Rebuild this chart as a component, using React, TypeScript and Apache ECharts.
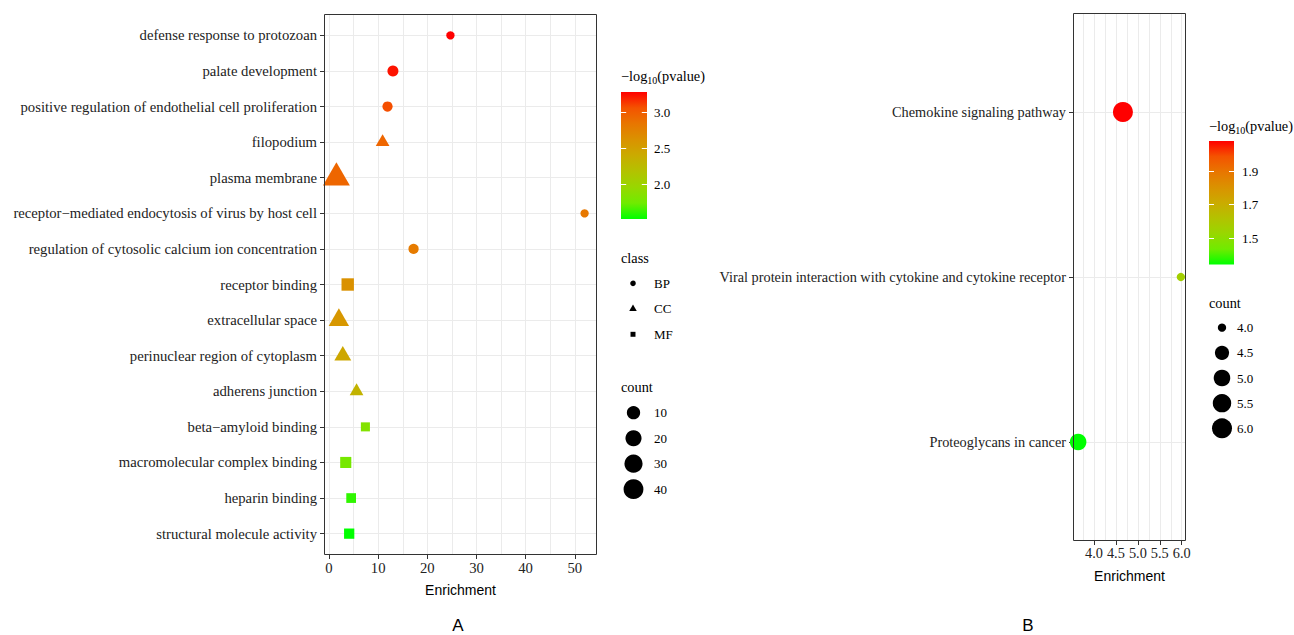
import React, { useEffect, useRef } from "react";
import * as echarts from "echarts";

// ---------------- Panel A data ----------------
const termsA = [
  "defense response to protozoan",
  "palate development",
  "positive regulation of endothelial cell proliferation",
  "filopodium",
  "plasma membrane",
  "receptor\u2212mediated endocytosis of virus by host cell",
  "regulation of cytosolic calcium ion concentration",
  "receptor binding",
  "extracellular space",
  "perinuclear region of cytoplasm",
  "adherens junction",
  "beta\u2212amyloid binding",
  "macromolecular complex binding",
  "heparin binding",
  "structural molecule activity",
];
const classA = ["BP", "BP", "BP", "CC", "CC", "BP", "BP", "MF", "CC", "CC", "CC", "MF", "MF", "MF", "MF"];
const enrichA = [24.7, 13.0, 11.9, 10.9, 1.5, 52.0, 17.2, 3.8, 2.0, 2.8, 5.6, 7.4, 3.4, 4.5, 4.1];
const countA = [3, 5, 4, 4, 41, 3, 4, 12, 16, 8, 4, 4, 8, 5, 6];
const pvalA = [3.28, 3.23, 3.07, 2.94, 2.94, 2.82, 2.8, 2.62, 2.57, 2.43, 2.32, 1.83, 1.76, 1.6, 1.505];

// ---------------- Panel B data ----------------
const termsB = [
  "Chemokine signaling pathway",
  "Viral protein interaction with cytokine and cytokine receptor",
  "Proteoglycans in cancer",
];
const enrichB = [4.66, 5.98, 3.64];
const countB = [6, 4, 5];
const pvalB = [2.08, 1.56, 1.34];

// ---------------- tick / legend labels ----------------
const xTicksA = [0, 10, 20, 30, 40, 50];
const xTicksB = [4.0, 4.5, 5.0, 5.5, 6.0];
const colorTicksA = [2.0, 2.5, 3.0];
const colorTicksB = [1.5, 1.7, 1.9];
const classLevels = ["BP", "CC", "MF"];
const countBreaksA = [10, 20, 30, 40];
const countBreaksB = [4.0, 4.5, 5.0, 5.5, 6.0];

// green -> red gradient (Lab-like interpolation stops)
const gradientStops = ["#00FF00", "#70EB00", "#98D700", "#B3C200", "#CAAB00", "#DA9200", "#E87600", "#F45300", "#FF0000"];

const SERIF = '"Liberation Serif", "DejaVu Serif", serif';
const SANS = '"Liberation Sans", Arial, sans-serif';

// layout
const GA = { left: 324, top: 14, width: 273, height: 541 };
const GB = { left: 1073, top: 13, width: 113, height: 528 };

function sizeScale(counts: number[]) {
  const lo = Math.min(...counts);
  const hi = Math.max(...counts);
  return (c: number) => 8.3 + 11.7 * Math.sqrt(Math.max(0, c - lo) / (hi - lo));
}

function symbolFor(cls: string) {
  return cls === "BP" ? "circle" : cls === "CC" ? "triangle" : "rect";
}

function symbolDims(cls: string, d: number) {
  if (cls === "CC") {
    const w = d * 1.347;
    const h = w * 0.866;
    return { size: [w, h], offset: [0, -h / 6] };
  }
  if (cls === "MF") {
    const s = d * 0.886;
    return { size: [s, s], offset: [0, 0] };
  }
  return { size: [d, d], offset: [0, 0] };
}

function expand(vals: number[]) {
  const lo = Math.min(...vals);
  const hi = Math.max(...vals);
  const pad = (hi - lo) * 0.05;
  return [lo - pad, hi + pad];
}

function measure(text: string, font: string) {
  const ctx = document.createElement("canvas").getContext("2d")!;
  ctx.font = font;
  return ctx.measureText(text).width;
}

function titleElems(x: number, y: number) {
  const f1 = 14.3;
  const f2 = 10;
  const w1 = measure("\u2212log", `${f1}px ${SERIF}`);
  const w2 = measure("10", `${f2}px ${SERIF}`);
  const mk = (tx: number, ty: number, text: string, fs: number) => ({
    type: "text",
    x: tx,
    y: ty,
    z: 20,
    style: { text, fill: "#000", fontFamily: SERIF, fontSize: fs, align: "left", verticalAlign: "middle" },
  });
  return [mk(x, y, "\u2212log", f1), mk(x + w1, y + 4, "10", f2), mk(x + w1 + w2, y, "(pvalue)", f1)];
}

function textEl(x: number, y: number, text: string, fs = 13, family = SERIF, align = "left") {
  return {
    type: "text",
    x,
    y,
    z: 20,
    style: { text, fill: "#000", fontFamily: family, fontSize: fs, align, verticalAlign: "middle" },
  };
}

function colorbar(x: number, y: number, w: number, h: number, lo: number, hi: number, ticks: number[], labelX: number) {
  const els: any[] = [];
  els.push({
    type: "rect",
    z: 20,
    shape: { x, y, width: w, height: h },
    style: {
      fill: new echarts.graphic.LinearGradient(
        0, 1, 0, 0,
        gradientStops.map((c, i) => ({ offset: i / (gradientStops.length - 1), color: c }))
      ),
    },
  });
  ticks.forEach((v) => {
    const ty = Math.round(y + ((hi - v) / (hi - lo)) * h) + 0.5;
    els.push({ type: "line", z: 21, shape: { x1: x, y1: ty, x2: x + w / 5, y2: ty }, style: { stroke: "#fff", lineWidth: 1 } });
    els.push({ type: "line", z: 21, shape: { x1: x + w - w / 5, y1: ty, x2: x + w, y2: ty }, style: { stroke: "#fff", lineWidth: 1 } });
    els.push(textEl(labelX, ty, v.toFixed(1)));
  });
  return els;
}

function shapeEl(cls: string, cx: number, cy: number, d: number) {
  if (cls === "BP") return { type: "circle", z: 20, shape: { cx, cy, r: d / 2 }, style: { fill: "#000" } };
  if (cls === "CC") {
    const w = d * 1.347;
    const h = w * 0.866;
    return {
      type: "polygon",
      z: 20,
      shape: { points: [[cx, cy - (2 * h) / 3], [cx + w / 2, cy + h / 3], [cx - w / 2, cy + h / 3]] },
      style: { fill: "#000" },
    };
  }
  const s = d * 0.886;
  return { type: "rect", z: 20, shape: { x: cx - s / 2, y: cy - s / 2, width: s, height: s }, style: { fill: "#000" } };
}

function border(g: { left: number; top: number; width: number; height: number }) {
  return {
    type: "rect",
    z: 30,
    silent: true,
    shape: { x: g.left + 0.5, y: g.top + 0.5, width: g.width - 1, height: g.height - 1 },
    style: { fill: "none", stroke: "#333", lineWidth: 1 },
  };
}

function yAxis(gridIndex: number, terms: string[], fs: number) {
  return {
    type: "value",
    gridIndex,
    inverse: true,
    position: "left",
    min: -0.6,
    max: terms.length - 1 + 0.6,
    minInterval: 1,
    maxInterval: 1,
    axisLine: { show: false, onZero: false },
    axisTick: { show: true, length: 4, lineStyle: { color: "#333" }, customValues: terms.map((_, i) => i) },
    splitLine: { show: true, lineStyle: { color: "#EBEBEB", width: 1 } },
    axisLabel: {
      margin: 7,
      fontFamily: SERIF,
      fontSize: fs,
      color: "#222",
      customValues: terms.map((_, i) => i),
      formatter: (v: number) => {
        const i = Math.round(v);
        return Math.abs(v - i) < 1e-6 && i >= 0 && i < terms.length ? terms[i] : "";
      },
    },
  };
}

function xAxis(gridIndex: number, ext: number[], major: number, ticks: number[], digits: number, fs: number) {
  return {
    type: "value",
    gridIndex,
    position: "bottom",
    min: ext[0],
    max: ext[1],
    minInterval: major,
    maxInterval: major,
    axisLine: { show: false, onZero: false },
    axisTick: { show: true, length: 4, lineStyle: { color: "#333" }, customValues: ticks },
    splitLine: { show: true, lineStyle: { color: "#EBEBEB", width: 1 } },
    minorTick: { show: false, splitNumber: 2 },
    minorSplitLine: { show: true, lineStyle: { color: "#EBEBEB", width: 1 } },
    axisLabel: {
      margin: 5,
      fontFamily: SERIF,
      fontSize: fs,
      color: "#222",
      customValues: ticks,
      formatter: (v: number) => {
        const ok = ticks.some((t) => Math.abs(t - v) < 1e-6);
        return ok ? v.toFixed(digits) : "";
      },
    },
    name: "Enrichment",
    nameLocation: "middle",
    nameGap: 28,
    nameTextStyle: { fontFamily: SANS, fontSize: 14, color: "#000" },
  };
}

function buildOption() {
  const sizeA = sizeScale(countA);
  const sizeB = sizeScale(countB);
  const extA = expand(enrichA);
  const extB = expand(enrichB);
  const pMinA = Math.min(...pvalA);
  const pMaxA = Math.max(...pvalA);
  const pMinB = Math.min(...pvalB);
  const pMaxB = Math.max(...pvalB);

  const seriesA = classLevels.map((cl) => ({
    type: "scatter",
    name: cl,
    xAxisIndex: 0,
    yAxisIndex: 0,
    symbol: symbolFor(cl),
    silent: true,
    itemStyle: { opacity: 1 },
    emphasis: { disabled: true },
    data: termsA
      .map((_, i) => i)
      .filter((i) => classA[i] === cl)
      .map((i) => {
        const dims = symbolDims(cl, sizeA(countA[i]));
        return { value: [enrichA[i], i, pvalA[i], countA[i]], symbolSize: dims.size, symbolOffset: dims.offset };
      }),
  }));

  const seriesB = {
    type: "scatter",
    name: "KEGG",
    xAxisIndex: 1,
    yAxisIndex: 1,
    symbol: "circle",
    silent: true,
    itemStyle: { opacity: 1 },
    emphasis: { disabled: true },
    data: termsB.map((_, i) => {
      const d = sizeB(countB[i]);
      return { value: [enrichB[i], i, pvalB[i], countB[i]], symbolSize: [d, d] };
    }),
  };

  const els: any[] = [];
  els.push(border(GA), border(GB));

  // Legend A
  els.push(...titleElems(621, 76));
  els.push(...colorbar(621, 92, 26, 127, pMinA, pMaxA, colorTicksA, 654));
  els.push(textEl(621, 258, "class", 14.3));
  classLevels.forEach((cl, k) => {
    const cy = 283.3 + k * 25.5;
    els.push(shapeEl(cl, 633, cy, 5.6));
    els.push(textEl(654, cy, cl));
  });
  els.push(textEl(621, 386.5, "count", 14.3));
  countBreaksA.forEach((c, k) => {
    const cy = 412.7 + k * 25.5;
    els.push({ type: "circle", z: 20, shape: { cx: 633.5, cy, r: sizeA(c) / 2 }, style: { fill: "#000" } });
    els.push(textEl(654, cy, String(c)));
  });

  // Legend B
  els.push(...titleElems(1209, 126));
  els.push(...colorbar(1209, 141, 25, 123.5, pMinB, pMaxB, colorTicksB, 1242));
  els.push(textEl(1209, 302.7, "count", 14.3));
  countBreaksB.forEach((c, k) => {
    const cy = 327.7 + k * 25.15;
    els.push({ type: "circle", z: 20, shape: { cx: 1222, cy, r: sizeB(c) / 2 }, style: { fill: "#000" } });
    els.push(textEl(1237, cy, c.toFixed(1)));
  });

  // panel letters
  els.push(textEl(458, 625, "A", 17, SANS, "center"));
  els.push(textEl(1028, 625, "B", 17, SANS, "center"));

  return {
    animation: false,
    backgroundColor: "#fff",
    grid: [
      { ...GA, containLabel: false },
      { ...GB, containLabel: false },
    ],
    xAxis: [xAxis(0, extA, 10, xTicksA, 0, 14.7), xAxis(1, extB, 0.5, xTicksB, 1, 14.3)],
    yAxis: [yAxis(0, termsA, 14.7), yAxis(1, termsB, 14.3)],
    visualMap: [
      { type: "continuous", show: false, seriesIndex: [0, 1, 2], dimension: 2, min: pMinA, max: pMaxA, inRange: { color: gradientStops } },
      { type: "continuous", show: false, seriesIndex: [3], dimension: 2, min: pMinB, max: pMaxB, inRange: { color: gradientStops } },
    ],
    series: [...seriesA, seriesB],
    graphic: { elements: els },
  };
}

export default function App() {
  const ref = useRef<HTMLDivElement>(null);
  useEffect(() => {
    const chart = echarts.init(ref.current!, null, { renderer: "svg" });
    chart.setOption(buildOption() as any);
    return () => chart.dispose();
  }, []);
  return (
    <div
      ref={ref}
      style={{ position: "fixed", left: 0, top: 0, width: 1294, height: 635, background: "#fff" }}
    />
  );
}
